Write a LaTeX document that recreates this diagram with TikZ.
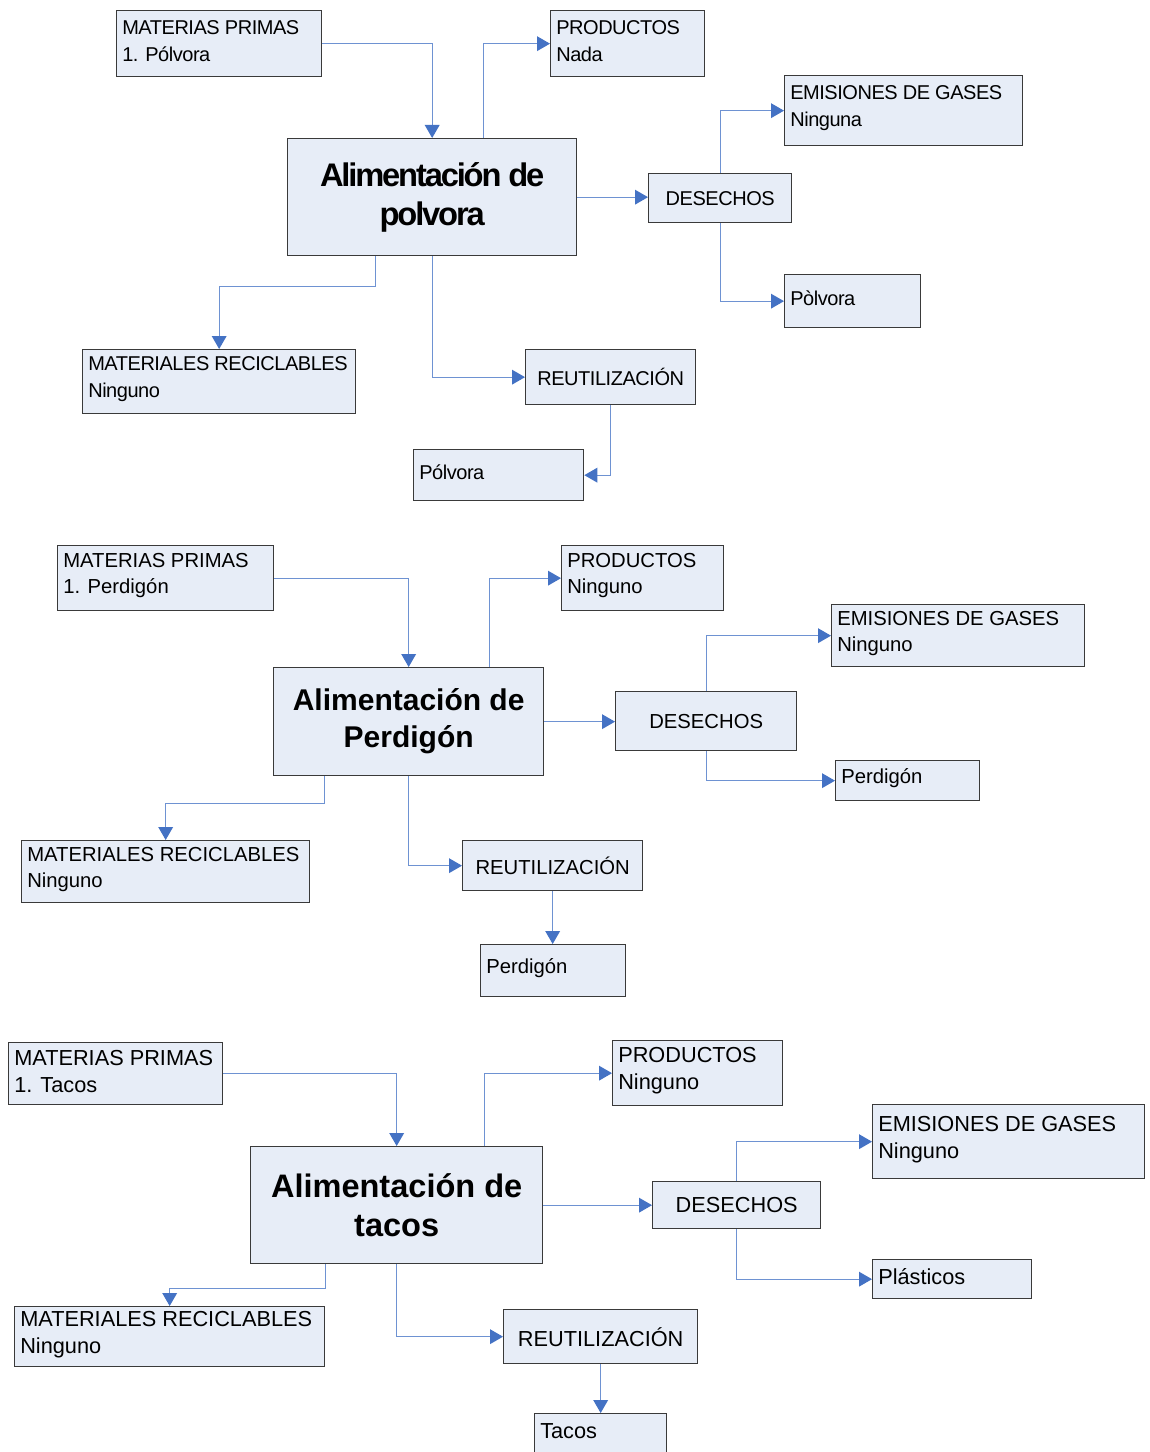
\documentclass[tikz,border=0pt]{standalone}
\usepackage{fontspec}
\setmainfont{Liberation Sans}
\newfontfamily\narrowsans[LetterSpace=-2.3]{Liberation Sans}
\newfontfamily\narrowbold[LetterSpace=-6.6]{Liberation Sans}
\usetikzlibrary{arrows.meta,calc}

\definecolor{boxfill}{RGB}{231,237,247}
\definecolor{boxline}{RGB}{58,58,58}
\definecolor{linkblue}{RGB}{110,146,210}
\definecolor{tipblue}{RGB}{68,114,196}

% font settings per block
\newcommand\fA{\narrowsans\fontsize{15pt}{20.25pt}\selectfont}
\newcommand\fAbig{\narrowbold\bfseries\fontsize{24.5pt}{29.25pt}\selectfont}
\newcommand\fB{\fontsize{15.2pt}{19.5pt}\selectfont}
\newcommand\fBbig{\bfseries\fontsize{22.5pt}{27.75pt}\selectfont}
\newcommand\fC{\fontsize{16.3pt}{20.25pt}\selectfont}
\newcommand\fCbig{\bfseries\fontsize{24.4pt}{29.25pt}\selectfont}

\tikzset{
  box/.style={rectangle, draw=boxline, fill=boxfill, line width=1pt, inner sep=0pt},
  conn/.style={draw=linkblue, line width=0.9pt,
    -{Triangle[length=9.75pt, width=11pt, color=tipblue]}},
}

% box with left-aligned text: name, x1, y1, x2, y2, font, text
\newcommand\lbox[7]{%
  \node[box, anchor=north west, minimum width={(#4-#2)*0.75pt},
        minimum height={(#5-#3)*0.75pt}] (#1) at (#2,#3) {};
  \node[anchor=west, align=left, inner sep=0pt, font=#6] (#1-t)
        at ($(#1.west)+(6,-2.5)$) {#7};}
% box with centred text
\newcommand\cbox[7]{%
  \node[box, anchor=north west, minimum width={(#4-#2)*0.75pt},
        minimum height={(#5-#3)*0.75pt}, align=center, font=#6] (#1)
        at (#2,#3) {#7};}

\begin{document}
\begin{tikzpicture}[x=0.75pt, y=-0.75pt]
\fill[white] (0,0) rectangle (1149,1452);
\useasboundingbox (0,0) rectangle (1149,1452);

% ---------- Pólvora ----------
\lbox{mpA}{116}{10}{321}{76}{\fA}{MATERIAS PRIMAS\\1. Pólvora}
\lbox{prodA}{550}{10}{704}{76}{\fA}{PRODUCTOS\\Nada}
\cbox{cA}{287}{138}{576}{255}{\fAbig}{Alimentación de\\polvora}
\cbox{desA}{648}{173}{791}{222}{\fA}{DESECHOS}
\lbox{emiA}{784}{75}{1022}{145}{\fA}{EMISIONES DE GASES\\Ninguna}
\lbox{resA}{784}{274}{920}{327}{\fA}{Pòlvora}
\lbox{mrA}{82}{349}{355}{413}{\fA}{MATERIALES RECICLABLES\\Ninguno}
\cbox{reuA}{525}{349}{695}{404}{\fA}{REUTILIZACIÓN}
\lbox{recA}{413}{449}{583}{500}{\fA}{Pólvora}

\draw[conn] (mpA.east) -| (cA.north);
\draw[conn] ($(cA.north)+(51.5,0)$) |- (prodA.west);
\draw[conn] (cA.east) -- (cA.east -| desA.west);
\draw[conn] (desA.north) |- (emiA.west);
\draw[conn] (desA.south) |- (resA.west);
\draw[conn] ($(cA.south)+(-56.5,0)$) -- ++(0,30) -| (mrA.north);
\draw[conn] (cA.south) |- (reuA.west);
\draw[conn] (reuA.south) |- (recA.east);

% ---------- Perdigón ----------
\lbox{mpB}{57}{545}{273}{610}{\fB}{MATERIAS PRIMAS\\1. Perdigón}
\lbox{prodB}{561}{545}{723}{610}{\fB}{PRODUCTOS\\Ninguno}
\cbox{cB}{273}{667}{543}{775}{\fBbig}{Alimentación de\\Perdigón}
\cbox{desB}{615}{691}{796}{750}{\fB}{DESECHOS}
\lbox{emiB}{831}{604}{1084}{666}{\fB}{EMISIONES DE GASES\\Ninguno}
\lbox{resB}{835}{760}{979}{800}{\fB}{Perdigón}
\lbox{mrB}{21}{840}{309}{902}{\fB}{MATERIALES RECICLABLES\\Ninguno}
\cbox{reuB}{462}{840}{642}{890}{\fB}{REUTILIZACIÓN}
\lbox{recB}{480}{944}{625}{996}{\fB}{Perdigón}

\draw[conn] (mpB.east) -| (cB.north);
\draw[conn] ($(cB.north)+(81,0)$) |- (prodB.west);
\draw[conn] (cB.east) -- (cB.east -| desB.west);
\draw[conn] (desB.north) |- (emiB.west);
\draw[conn] (desB.south) |- (resB.west);
\draw[conn] ($(cB.south)+(-84,0)$) -- ++(0,27) -| (mrB.north);
\draw[conn] (cB.south) |- (reuB.west);
\draw[conn] (reuB.south) -- (reuB.south |- recB.north);

% ---------- Tacos ----------
\lbox{mpC}{8}{1042}{222}{1104}{\fC}{MATERIAS PRIMAS\\1. Tacos}
\lbox{prodC}{612}{1040}{782}{1105}{\fC}{PRODUCTOS\\Ninguno}
\cbox{cC}{250}{1146}{542}{1263}{\fCbig}{Alimentación de\\tacos}
\cbox{desC}{652}{1181}{820}{1228}{\fC}{DESECHOS}
\lbox{emiC}{872}{1104}{1144}{1178}{\fC}{EMISIONES DE GASES\\Ninguno}
\lbox{resC}{872}{1259}{1031}{1298}{\fC}{Plásticos}
\lbox{mrC}{14}{1306}{324}{1366}{\fC}{MATERIALES RECICLABLES\\Ninguno}
\cbox{reuC}{503}{1309}{697}{1363}{\fC}{REUTILIZACIÓN}
\node[box, anchor=north west, minimum width={132*0.75pt},
      minimum height={50*0.75pt}] (recC) at (534,1413) {};
\node[anchor=west, inner sep=0pt, font=\fC] (recC-t)
      at ($(recC.north west)+(6,18)$) {Tacos};

\draw[conn] (mpC.east) -| (cC.north);
\draw[conn] ($(cC.north)+(88,0)$) |- (prodC.west);
\draw[conn] (cC.east) -- (cC.east -| desC.west);
\draw[conn] (desC.north) |- (emiC.west);
\draw[conn] (desC.south) |- (resC.west);
\draw[conn] ($(cC.south)+(-71,0)$) -- ++(0,24) -| (mrC.north);
\draw[conn] (cC.south) |- (reuC.west);
\draw[conn] (reuC.south) -- (reuC.south |- recC.north);
\end{tikzpicture}
\end{document}
